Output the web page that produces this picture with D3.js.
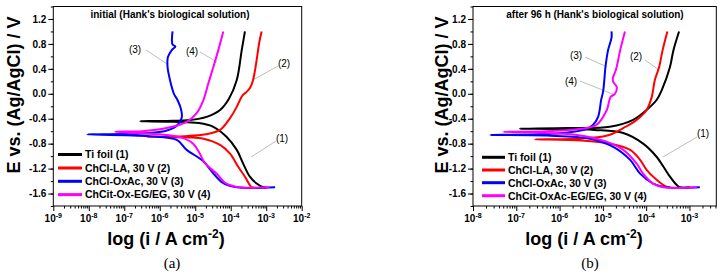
<!DOCTYPE html>
<html>
<head>
<meta charset="utf-8">
<title>Tafel plots</title>
<script src="https://cdn.jsdelivr.net/npm/d3@7"></script>
<style>
  body { margin: 0; background: #fff; }
  text { font-family: "Liberation Sans", Arial, sans-serif; }
</style>
</head>
<body>
<script>
// legend names and colours
var namesA = ["Ti foil (1)", "ChCl-LA, 30 V (2)", "ChCl-OxAc, 30 V (3)", "ChCit-Ox-EG/EG, 30 V (4)"];
var namesB = ["Ti foil (1)", "ChCl-LA, 30 V (2)", "ChCl-OxAc, 30 V (3)", "ChCit-OxAc-EG/EG, 30 V (4)"];
var colors = ["#000000", "#ff0000", "#0000ff", "#ff00ff"];
var yTicks = [-1.6, -1.2, -0.8, -0.4, 0.0, 0.4, 0.8, 1.2];

// (a) initial -- log10(i / A cm-2) and E / V, cathodic end -> Ecorr -> anodic end
var a_ti_logI = [-3.0, -3.08, -3.27, -3.46, -3.65, -3.83, -4.12, -4.49, -4.9, -5.6, -6.55, -5.8, -5.15, -4.68, -4.3, -4.05, -3.83, -3.69, -3.6];
var a_ti_E    = [-1.5, -1.5, -1.44, -1.33, -1.12, -0.9, -0.69, -0.53, -0.47, -0.45, -0.44, -0.435, -0.42, -0.37, -0.26, -0.08, 0.22, 0.7, 1.0];
var a_la_logI = [-3.35, -3.41, -3.48, -3.6, -3.79, -4.02, -4.3, -4.77, -5.24, -6.37, -5.3, -4.7, -4.3, -4.02, -3.83, -3.74, -3.66, -3.55, -3.45, -3.37, -3.27, -3.2, -3.13];
var a_la_E    = [-1.5, -1.5, -1.45, -1.33, -1.17, -0.96, -0.82, -0.72, -0.7, -0.69, -0.68, -0.65, -0.58, -0.39, -0.21, -0.1, -0.02, 0.03, 0.1, 0.22, 0.54, 0.81, 1.0];
var a_ox_logI = [-2.75, -3.83, -4.22, -4.5, -4.78, -5.24, -5.52, -6.28, -8.05, -7.0, -6.3, -5.8, -5.5, -5.38, -5.4, -5.5, -5.6, -5.69, -5.78, -5.77, -5.66, -5.56, -5.64, -5.64];
var a_ox_E    = [-1.5, -1.5, -1.43, -1.27, -1.08, -0.9, -0.74, -0.68, -0.65, -0.645, -0.63, -0.59, -0.5, -0.38, -0.25, -0.1, 0.0, 0.17, 0.43, 0.59, 0.7, 0.76, 0.79, 1.0];
var a_eg_logI = [-2.9, -3.74, -4.12, -4.4, -4.73, -4.88, -5.06, -5.4, -6.0, -6.7, -7.26, -6.5, -5.81, -5.24, -4.96, -4.77, -4.63, -4.49, -4.35, -4.21];
var a_eg_E    = [-1.5, -1.5, -1.44, -1.28, -1.11, -0.95, -0.8, -0.7, -0.65, -0.63, -0.61, -0.6, -0.55, -0.45, -0.31, -0.1, 0.17, 0.43, 0.7, 1.0];

// (b) after 96 h
var b_ti_logI = [-2.99, -3.22, -3.3, -3.45, -3.6, -3.76, -4.07, -4.53, -5.2, -6.0, -6.92, -5.8, -4.84, -4.3, -3.99, -3.76, -3.64, -3.45, -3.37, -3.24];
var b_ti_E    = [-1.5, -1.5, -1.46, -1.33, -1.17, -1.01, -0.8, -0.63, -0.58, -0.565, -0.56, -0.55, -0.53, -0.42, -0.26, -0.1, 0.06, 0.43, 0.7, 1.0];
var b_la_logI = [-3.45, -3.56, -3.76, -3.99, -4.14, -4.37, -4.84, -5.5, -6.57, -5.6, -4.9, -4.53, -4.22, -3.99, -3.87, -3.8, -3.7, -3.62, -3.51];
var b_la_E    = [-1.5, -1.48, -1.38, -1.22, -1.06, -0.9, -0.8, -0.75, -0.73, -0.72, -0.67, -0.55, -0.42, -0.26, -0.05, 0.22, 0.43, 0.7, 1.0];
var b_ox_logI = [-2.76, -3.53, -3.84, -4.14, -4.37, -4.76, -5.3, -6.3, -7.6, -6.5, -5.8, -5.4, -5.23, -5.11, -5.04, -4.99, -4.94, -4.88, -4.8, -4.8];
var b_ox_E    = [-1.5, -1.5, -1.44, -1.28, -1.06, -0.85, -0.72, -0.67, -0.66, -0.65, -0.62, -0.57, -0.5, -0.37, -0.1, 0.06, 0.43, 0.7, 0.9, 1.0];
var b_eg_logI = [-2.83, -3.6, -3.84, -4.07, -4.22, -4.53, -4.95, -5.6, -6.5, -7.3, -6.3, -5.6, -5.15, -4.91, -4.82, -4.72, -4.68, -4.76, -4.77, -4.7, -4.6, -4.49];
var b_eg_E    = [-1.5, -1.5, -1.44, -1.28, -1.12, -0.9, -0.76, -0.66, -0.62, -0.61, -0.6, -0.57, -0.5, -0.26, -0.05, 0.0, 0.11, 0.19, 0.25, 0.38, 0.7, 1.0];

// annotation labels: [text, label x, label y, leader from x, y, to x, y]
var notesA = [["(3)", 135, 53, 146, 50, 167, 64], ["(4)", 192, 55, 200, 52, 217, 62],
              ["(2)", 284, 67, 278, 66, 253, 80], ["(1)", 282, 142, 276, 141, 251, 157]];
var notesB = [["(3)", 576, 59, 585, 57, 605, 66], ["(4)", 571, 85, 580, 81, 615, 95],
              ["(2)", 636, 60, 645, 60, 659, 70], ["(1)", 703, 137, 697, 137, 663, 157]];

var svg = d3.select("body").append("svg")
  .attr("width", 726)
  .attr("height", 277);

function zip(l, e) { return l.map(function(v, i) { return [Math.pow(10, v), e[i]]; }); }

var panels = [
  { x0: 53.3, x1: 301.7, xmin: -9, xmax: -2, title: "initial (Hank's biological solution)", titleX: 170,
    names: namesA, series: [zip(a_ti_logI, a_ti_E), zip(a_la_logI, a_la_E), zip(a_ox_logI, a_ox_E), zip(a_eg_logI, a_eg_E)],
    notes: notesA, yLabX: 20, xLabX: 166, tagX: 172, tag: "(a)",
    legLine: [58, 82], legY: [154.5, 168, 181.3, 194.6] },
  { x0: 473, x1: 716.3, xmin: -8, xmax: -2.38, title: "after 96 h (Hank's biological solution)", titleX: 595,
    names: namesB, series: [zip(b_ti_logI, b_ti_E), zip(b_la_logI, b_la_E), zip(b_ox_logI, b_ox_E), zip(b_eg_logI, b_eg_E)],
    notes: notesB, yLabX: 448, xLabX: 584, tagX: 590, tag: "(b)",
    legLine: [482, 505], legY: [157.3, 170, 182.7, 195.7] }
];

var plotTop = 6.5, plotBottom = 206;

panels.forEach(function(p) {
  var x = d3.scaleLog().domain([Math.pow(10, p.xmin), Math.pow(10, p.xmax)]).range([p.x0, p.x1]);
  var y = d3.scaleLinear().domain([-1.8, 1.4]).range([plotBottom, plotTop]);

  // ticks: majors per decade, minors 2..9
  var majors = [], minors = [];
  for (var k = Math.ceil(p.xmin); k <= Math.floor(p.xmax); k++) majors.push(Math.pow(10, k));
  for (var k = Math.floor(p.xmin); k <= Math.ceil(p.xmax); k++) {
    for (var m = 2; m <= 9; m++) {
      var v = m * Math.pow(10, k);
      if (Math.log10(v) > p.xmin && Math.log10(v) < p.xmax) minors.push(v);
    }
  }

  var gx = svg.append("g").attr("transform", "translate(0," + plotBottom + ")");
  gx.call(d3.axisBottom(x).tickValues(majors).tickSize(5).tickFormat(""));
  gx.append("g").call(d3.axisBottom(x).tickValues(minors).tickSize(2.5).tickFormat(""));
  gx.selectAll(".domain").remove();
  gx.selectAll("line").attr("stroke", "#000").attr("stroke-width", 1);

  majors.forEach(function(v) {
    var t = svg.append("text")
      .attr("x", x(v))
      .attr("y", 222)
      .attr("text-anchor", "middle")
      .style("font-size", "10px")
      .style("font-weight", "bold");
    t.append("tspan").text("10");
    t.append("tspan").attr("dy", -4.5).style("font-size", "7px").text(String(Math.round(Math.log10(v))));
  });

  var yMinor = d3.range(-1.8, 1.41, 0.2).map(function(d) { return Math.round(d * 10) / 10; });
  var gy = svg.append("g").attr("transform", "translate(" + p.x0 + ",0)");
  gy.call(d3.axisLeft(y).tickValues(yTicks).tickSize(5).tickPadding(2)
    .tickFormat(function(d) { return d.toFixed(1); }));
  gy.append("g").call(d3.axisLeft(y).tickValues(yMinor).tickSize(2.5).tickFormat(""));
  gy.selectAll(".domain").remove();
  gy.selectAll("line").attr("stroke", "#000");
  gy.selectAll("text").style("font-size", "10px").style("font-weight", "bold")
    .style("font-family", "'Liberation Sans', Arial, sans-serif").attr("fill", "#000");

  // frame
  svg.append("rect")
    .attr("x", p.x0).attr("y", plotTop)
    .attr("width", p.x1 - p.x0).attr("height", plotBottom - plotTop)
    .attr("fill", "none").attr("stroke", "#000").attr("stroke-width", 1);

  svg.append("text")
    .attr("x", p.titleX).attr("y", 18)
    .attr("text-anchor", "middle")
    .style("font-size", "10px").style("font-weight", "bold")
    .text(p.title);

  // leader lines + labels
  p.notes.forEach(function(n) {
    svg.append("line")
      .attr("x1", n[3]).attr("y1", n[4]).attr("x2", n[5]).attr("y2", n[6])
      .attr("stroke", "#a0a0a0").attr("stroke-width", 0.7);
    svg.append("text")
      .attr("x", n[1]).attr("y", n[2])
      .attr("text-anchor", "middle")
      .style("font-size", "10px")
      .text(n[0]);
  });

  var line = d3.line()
    .x(function(d) { return x(d[0]); })
    .y(function(d) { return y(d[1]); })
    .curve(d3.curveCatmullRom.alpha(0.5));

  p.series.forEach(function(s, i) {
    svg.append("path")
      .attr("d", line(s))
      .attr("fill", "none")
      .attr("stroke", colors[i])
      .attr("stroke-width", 2);
  });

  // legend
  p.names.forEach(function(nm, i) {
    svg.append("line")
      .attr("x1", p.legLine[0]).attr("x2", p.legLine[1])
      .attr("y1", p.legY[i]).attr("y2", p.legY[i])
      .attr("stroke", colors[i]).attr("stroke-width", 3);
    svg.append("text")
      .attr("x", p.legLine[1] + 3).attr("y", p.legY[i] + 3.8)
      .style("font-size", "10.5px").style("font-weight", "bold")
      .text(nm);
  });

  // axis titles
  svg.append("text")
    .attr("transform", "translate(" + p.yLabX + "," + 95 + ") rotate(-90)")
    .attr("text-anchor", "middle")
    .style("font-size", "18px").style("font-weight", "bold")
    .text("E vs. (Ag/AgCl) / V");

  var xl = svg.append("text")
    .attr("x", p.xLabX).attr("y", 245)
    .attr("text-anchor", "middle")
    .style("font-size", "18px").style("font-weight", "bold");
  xl.append("tspan").text("log (i / A cm");
  xl.append("tspan").attr("dy", -7).style("font-size", "12px").text("-2");
  xl.append("tspan").attr("dy", 7).text(")");

  svg.append("text")
    .attr("x", p.tagX).attr("y", 268)
    .attr("text-anchor", "middle")
    .style("font-family", "'Liberation Serif', 'DejaVu Serif', serif")
    .style("font-size", "15px")
    .text(p.tag);
});
</script>
</body>
</html>
